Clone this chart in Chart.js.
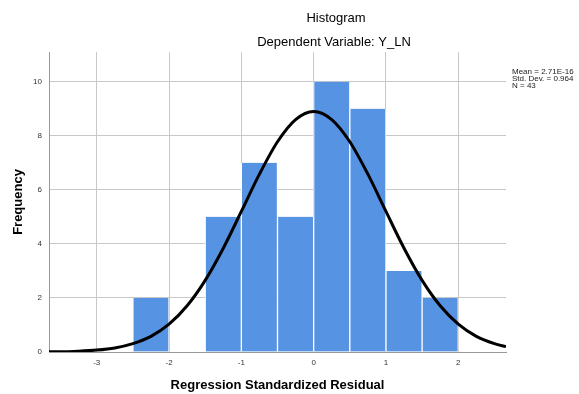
<!DOCTYPE html>
<html>
<head>
<meta charset="utf-8">
<script src="https://cdn.jsdelivr.net/npm/chart.js@4/dist/chart.umd.min.js"></script>
<style>
  body { margin: 0; background: #fff; }
  #wrap { width: 579px; height: 394px; position: relative; }
</style>
</head>
<body>
<div id="wrap"><canvas id="myChart"></canvas></div>
<script>
// histogram bins (width 0.5), centres and counts
const binCenters = [-2.25, -1.75, -1.25, -0.75, -0.25, 0.25, 0.75, 1.25, 1.75];
const frequencies = [2, 0, 5, 7, 5, 10, 9, 3, 2];

// normal curve
const curveX = [-3.66, -3.5, -3.25, -3, -2.75, -2.5, -2.25, -2, -1.75, -1.5, -1.25, -1, -0.75, -0.5, -0.25,
  0, 0.25, 0.5, 0.75, 1, 1.25, 1.5, 1.75, 2, 2.25, 2.5, 2.66];
const curveY = [0.01, 0.01, 0.03, 0.07, 0.15, 0.31, 0.58, 1.03, 1.71, 2.65, 3.84, 5.2, 6.58, 7.78, 8.6,
  8.9, 8.6, 7.78, 6.58, 5.2, 3.84, 2.65, 1.71, 1.03, 0.58, 0.31, 0.2];

const xTicks = [-3, -2, -1, 0, 1, 2];
const yTicks = [0, 2, 4, 6, 8, 10];
const statsLines = ['Mean = 2.71E-16', 'Std. Dev. = 0.964', 'N = 43'];

const FONT = '"Liberation Sans", Arial, sans-serif';

const textPlugin = {
  id: 'textPlugin',
  afterDraw(chart) {
    const ctx = chart.ctx;
    ctx.save();
    ctx.fillStyle = '#000';
    ctx.textAlign = 'center';
    ctx.textBaseline = 'middle';
    ctx.font = '13px ' + FONT;
    ctx.fillText('Histogram', 336, 18);
    ctx.fillText('Dependent Variable: Y_LN', 334, 42);
    ctx.font = '8px ' + FONT;
    ctx.textAlign = 'left';
    ctx.fillStyle = '#222';
    statsLines.forEach((s, i) => ctx.fillText(s, 512, 72 + i * 7));
    ctx.restore();
  }
};

const ctx = document.getElementById('myChart').getContext('2d');
new Chart(ctx, {
  type: 'bar',
  data: {
    datasets: [{
      type: 'line',
      data: curveX.map((x, i) => ({ x: x, y: curveY[i] })),
      borderColor: '#000',
      borderWidth: 3,
      pointRadius: 0,
      fill: false,
      tension: 0.4,
      cubicInterpolationMode: 'monotone',
      order: 1
    }, {
      type: 'bar',
      data: binCenters.map((x, i) => ({ x: x, y: frequencies[i] })),
      backgroundColor: '#5693e2',
      borderColor: '#ffffff',
      borderWidth: { left: 1, right: 1, top: 0, bottom: 0 },
      barPercentage: 1,
      categoryPercentage: 1,
      order: 2
    }]
  },
  options: {
    responsive: true,
    maintainAspectRatio: false,
    animation: false,
    layout: { padding: { left: 0, right: 73, top: 52, bottom: 0 } },
    plugins: {
      legend: { display: false },
      tooltip: { enabled: false }
    },
    scales: {
      x: {
        type: 'linear',
        min: -3.66,
        max: 2.66,
        offset: false,
        afterBuildTicks: (scale) => { scale.ticks = xTicks.map(v => ({ value: v })); },
        afterFit: (scale) => { scale.height = 42; },
        grid: { color: '#c8c8c8', drawTicks: false, offset: false },
        border: { color: '#999' },
        ticks: { padding: 6, color: '#333', font: { family: FONT, size: 8 }, maxRotation: 0 },
        title: {
          display: true,
          text: 'Regression Standardized Residual',
          color: '#000',
          font: { family: FONT, size: 13, weight: 'bold' },
          padding: { top: 0, bottom: 1 }
        }
      },
      y: {
        min: 0,
        max: 11.1,
        afterBuildTicks: (scale) => { scale.ticks = yTicks.map(v => ({ value: v })); },
        afterFit: (scale) => { scale.width = 49; },
        grid: { color: '#c8c8c8', drawTicks: false },
        border: { color: '#999' },
        ticks: { padding: 7, color: '#333', font: { family: FONT, size: 8 } },
        title: {
          display: true,
          text: 'Frequency',
          color: '#000',
          font: { family: FONT, size: 13, weight: 'bold' },
          padding: { top: 11, bottom: 0 }
        }
      }
    }
  },
  plugins: [textPlugin]
});
</script>
</body>
</html>
